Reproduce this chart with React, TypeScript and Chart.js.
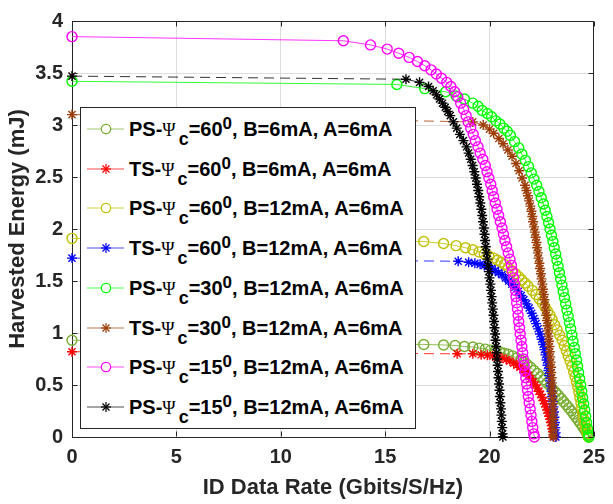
import React, { useEffect, useRef } from 'react';
import { Chart, registerables } from 'chart.js';

Chart.register(...registerables);

type P = [number, number];

const xTicks = [0, 5, 10, 15, 20, 25];
const yTicks = [0, 0.5, 1, 1.5, 2, 2.5, 3, 3.5, 4];
const xTitle = 'ID Data Rate (Gbits/S/Hz)';
const yTitle = 'Harvested Energy (mJ)';

// PS-Psi_c=60, B=6mA, A=6mA
const psPsi60B6: P[] = [[0,0.93],[16.85,0.89],[17.8,0.885],[18.35,0.88],[18.8,0.87],[19.2,0.865],[19.5,0.855],[19.8,0.845],[20.05,0.835],[20.3,0.825],[20.5,0.815],[20.7,0.805],[20.9,0.795],[21.1,0.78],[21.3,0.76],[21.5,0.74],[21.65,0.72],[21.8,0.7],[21.97,0.67],[22.13,0.64],[22.3,0.61],[22.45,0.58],[22.6,0.55],[22.75,0.52],[22.9,0.49],[23.03,0.46],[23.17,0.43],[23.3,0.4],[23.43,0.37],[23.55,0.34],[23.68,0.31],[23.8,0.28],[23.92,0.25],[24.03,0.22],[24.14,0.19],[24.25,0.16],[24.36,0.13],[24.46,0.1],[24.56,0.07],[24.65,0.04],[24.72,0.015],[24.76,0]];
// TS-Psi_c=60, B=6mA, A=6mA
const tsPsi60B6: P[] = [[0,0.82],[18.45,0.8],[19.2,0.8],[19.6,0.79],[19.9,0.785],[20.15,0.78],[20.38,0.77],[20.6,0.76],[20.8,0.745],[20.98,0.73],[21.16,0.71],[21.32,0.69],[21.46,0.67],[21.6,0.65],[21.74,0.62],[21.87,0.59],[21.98,0.56],[22.09,0.53],[22.19,0.5],[22.28,0.47],[22.37,0.44],[22.45,0.41],[22.52,0.38],[22.59,0.35],[22.65,0.32],[22.71,0.29],[22.76,0.26],[22.81,0.23],[22.86,0.2],[22.9,0.17],[22.94,0.14],[22.98,0.11],[23.01,0.08],[23.04,0.05],[23.07,0.02],[23.08,0]];
// PS-Psi_c=60, B=12mA, A=6mA
const psPsi60B12: P[] = [[0,1.91],[16.85,1.88],[17.8,1.86],[18.4,1.84],[18.85,1.82],[19.2,1.8],[19.5,1.78],[19.75,1.76],[19.97,1.74],[20.2,1.72],[20.38,1.7],[20.55,1.68],[20.72,1.66],[20.9,1.63],[21.07,1.6],[21.25,1.57],[21.4,1.54],[21.55,1.51],[21.7,1.48],[21.85,1.45],[22.05,1.41],[22.22,1.37],[22.38,1.33],[22.53,1.29],[22.66,1.25],[22.78,1.21],[22.9,1.17],[23.0,1.13],[23.12,1.08],[23.24,1.03],[23.36,0.98],[23.48,0.93],[23.58,0.88],[23.68,0.83],[23.77,0.78],[23.86,0.73],[23.95,0.68],[24.03,0.63],[24.1,0.58],[24.17,0.53],[24.23,0.48],[24.28,0.43],[24.33,0.38],[24.38,0.33],[24.42,0.28],[24.46,0.23],[24.5,0.18],[24.56,0.13],[24.62,0.08],[24.69,0.03],[24.74,0]];
// TS-Psi_c=60, B=12mA, A=6mA
const tsPsi60B12: P[] = [[0,1.72],[18.5,1.69],[19.0,1.68],[19.3,1.67],[19.55,1.66],[19.75,1.65],[19.92,1.64],[20.1,1.62],[20.27,1.6],[20.43,1.58],[20.6,1.56],[20.76,1.53],[20.92,1.5],[21.07,1.47],[21.22,1.44],[21.38,1.4],[21.52,1.36],[21.65,1.32],[21.78,1.28],[21.9,1.24],[22.02,1.19],[22.13,1.14],[22.23,1.09],[22.33,1.04],[22.42,0.99],[22.5,0.94],[22.57,0.89],[22.63,0.84],[22.68,0.79],[22.73,0.74],[22.78,0.69],[22.82,0.64],[22.86,0.59],[22.9,0.54],[22.94,0.49],[22.97,0.44],[23.0,0.39],[23.03,0.34],[23.06,0.29],[23.09,0.24],[23.11,0.19],[23.13,0.14],[23.15,0.09],[23.17,0.04],[23.18,0]];
// PS-Psi_c=30, B=12mA, A=6mA
const psPsi30B12: P[] = [[0,3.42],[15.56,3.39],[16.9,3.35],[17.9,3.32],[18.4,3.28],[18.8,3.25],[19.2,3.21],[19.45,3.18],[19.65,3.14],[19.9,3.11],[20.1,3.08],[20.3,3.04],[20.5,3.01],[20.68,2.97],[20.85,2.94],[21.0,2.9],[21.2,2.84],[21.4,2.78],[21.55,2.72],[21.72,2.66],[21.87,2.6],[22.0,2.54],[22.13,2.48],[22.26,2.42],[22.37,2.36],[22.48,2.3],[22.58,2.24],[22.67,2.18],[22.75,2.12],[22.83,2.06],[22.9,2.0],[22.97,1.94],[23.04,1.88],[23.1,1.82],[23.17,1.76],[23.23,1.7],[23.29,1.64],[23.35,1.58],[23.41,1.52],[23.47,1.46],[23.53,1.4],[23.59,1.34],[23.65,1.28],[23.71,1.22],[23.77,1.16],[23.83,1.1],[23.89,1.04],[23.95,0.98],[24.0,0.92],[24.06,0.86],[24.11,0.8],[24.17,0.74],[24.22,0.68],[24.27,0.62],[24.32,0.56],[24.37,0.5],[24.42,0.44],[24.46,0.38],[24.51,0.32],[24.56,0.26],[24.61,0.2],[24.65,0.14],[24.7,0.08],[24.74,0.02],[24.76,0]];
// TS-Psi_c=30, B=12mA, A=6mA
const tsPsi30B12: P[] = [[0,3.1],[19.2,3.03],[19.7,3.0],[20.0,2.96],[20.2,2.92],[20.45,2.87],[20.65,2.82],[20.88,2.76],[21.08,2.7],[21.27,2.63],[21.42,2.56],[21.56,2.49],[21.7,2.42],[21.77,2.37],[21.84,2.32],[21.9,2.27],[21.96,2.22],[22.01,2.17],[22.05,2.12],[22.09,2.07],[22.13,2.02],[22.17,1.97],[22.21,1.92],[22.25,1.87],[22.28,1.82],[22.32,1.77],[22.35,1.72],[22.39,1.67],[22.42,1.62],[22.46,1.57],[22.49,1.52],[22.53,1.47],[22.56,1.42],[22.6,1.37],[22.63,1.32],[22.66,1.27],[22.69,1.22],[22.72,1.17],[22.75,1.12],[22.78,1.07],[22.8,1.02],[22.83,0.97],[22.85,0.92],[22.87,0.87],[22.89,0.82],[22.91,0.77],[22.93,0.72],[22.95,0.67],[22.96,0.62],[22.98,0.57],[22.99,0.52],[23.0,0.47],[23.01,0.42],[23.02,0.37],[23.03,0.32],[23.04,0.27],[23.04,0.22],[23.05,0.17],[23.05,0.12],[23.06,0.07],[23.06,0.02],[23.06,0]];
// PS-Psi_c=15, B=12mA, A=6mA (circles)
const psPsi15B12: P[] = [[0,3.85],[13.0,3.81],[14.3,3.77],[15.1,3.73],[15.65,3.69],[16.15,3.65],[16.55,3.61],[16.9,3.57],[17.2,3.53],[17.45,3.49],[17.7,3.45],[17.95,3.41],[18.15,3.37],[18.33,3.32],[18.48,3.27],[18.62,3.21],[18.76,3.15],[18.88,3.09],[18.98,3.03],[19.1,2.97],[19.22,2.91],[19.32,2.85],[19.45,2.79],[19.55,2.73],[19.68,2.67],[19.8,2.61],[19.88,2.55],[19.97,2.49],[20.06,2.43],[20.13,2.37],[20.2,2.31],[20.28,2.25],[20.36,2.19],[20.44,2.13],[20.52,2.07],[20.6,2.01],[20.67,1.95],[20.74,1.89],[20.82,1.83],[20.9,1.77],[20.98,1.71],[21.05,1.65],[21.1,1.59],[21.16,1.53],[21.2,1.47],[21.24,1.41],[21.27,1.35],[21.3,1.29],[21.34,1.23],[21.37,1.17],[21.4,1.11],[21.44,1.05],[21.47,0.99],[21.51,0.93],[21.55,0.87],[21.59,0.81],[21.62,0.75],[21.66,0.69],[21.7,0.63],[21.74,0.57],[21.78,0.51],[21.82,0.45],[21.86,0.39],[21.9,0.33],[21.95,0.27],[21.99,0.21],[22.03,0.15],[22.07,0.09],[22.12,0.03],[22.15,0]];
// PS-Psi_c=15, B=12mA, A=6mA (asterisks)
const psPsi15B12Star: P[] = [[0,3.47],[16.0,3.44],[16.65,3.41],[17.08,3.37],[17.3,3.33],[17.46,3.29],[17.6,3.25],[17.75,3.21],[17.88,3.17],[18.0,3.13],[18.12,3.09],[18.27,3.03],[18.43,2.97],[18.58,2.91],[18.75,2.85],[18.9,2.79],[19.0,2.73],[19.1,2.67],[19.19,2.61],[19.27,2.55],[19.34,2.49],[19.4,2.43],[19.46,2.37],[19.51,2.31],[19.56,2.25],[19.61,2.19],[19.65,2.13],[19.69,2.07],[19.73,2.01],[19.76,1.95],[19.79,1.89],[19.82,1.83],[19.86,1.77],[19.9,1.71],[19.93,1.65],[19.97,1.59],[20.0,1.53],[20.04,1.47],[20.07,1.41],[20.1,1.35],[20.13,1.29],[20.16,1.23],[20.19,1.17],[20.22,1.11],[20.24,1.05],[20.27,0.99],[20.29,0.93],[20.32,0.87],[20.34,0.81],[20.36,0.75],[20.39,0.69],[20.41,0.63],[20.43,0.57],[20.46,0.51],[20.48,0.45],[20.5,0.39],[20.52,0.33],[20.55,0.27],[20.57,0.21],[20.59,0.15],[20.61,0.09],[20.63,0.03],[20.64,0]];

const legendScheme = ['PS', 'TS', 'PS', 'TS', 'PS', 'TS', 'PS', 'PS'];
const legendAngle = ['60', '60', '60', '60', '30', '30', '15', '15'];
const legendTail = [', B=6mA, A=6mA', ', B=6mA, A=6mA', ', B=12mA, A=6mA', ', B=12mA, A=6mA', ', B=12mA, A=6mA', ', B=12mA, A=6mA', ', B=12mA, A=6mA', ', B=12mA, A=6mA'];

const seriesData: P[][] = [psPsi60B6, tsPsi60B6, psPsi60B12, tsPsi60B12, psPsi30B12, tsPsi30B12, psPsi15B12, psPsi15B12Star];
const seriesColor = ['#77AC30', '#FF0000', '#BFBF00', '#0000FF', '#00FF00', '#9C3D06', '#FF00FF', '#000000'];
const seriesMarker = ['circle', 'star', 'circle', 'star', 'circle', 'star', 'circle', 'star'];
const seriesDashed = [false, true, false, true, false, true, false, true];

const FONT = "'Liberation Sans', Arial, Helvetica, sans-serif";
const AXIS_COLOR = '#262626';

const framePlugin = {
  id: 'frameTicks',
  afterDatasetsDraw(chart: any) {
    const { ctx, chartArea: a, scales } = chart;
    const L = Math.round(a.left) + 0.5;
    const R = Math.round(a.right) - 0.5;
    const T = Math.round(a.top) + 0.5;
    const B = Math.round(a.bottom) - 0.5;
    ctx.save();
    ctx.strokeStyle = AXIS_COLOR;
    ctx.lineWidth = 1;
    ctx.beginPath();
    ctx.moveTo(L, T); ctx.lineTo(R, T); ctx.lineTo(R, B);
    const tl = 5;
    xTicks.forEach((v) => {
      const px = Math.round(scales.x.getPixelForValue(v)) + 0.5;
      ctx.moveTo(px, B); ctx.lineTo(px, B - tl);
      ctx.moveTo(px, T); ctx.lineTo(px, T + tl);
    });
    yTicks.forEach((v) => {
      const py = Math.round(scales.y.getPixelForValue(v)) + 0.5;
      ctx.moveTo(L, py); ctx.lineTo(L + tl, py);
      ctx.moveTo(R, py); ctx.lineTo(R - tl, py);
    });
    ctx.stroke();
    ctx.restore();
  },
};

function withAlpha(hex: string, a: number) {
  const r = parseInt(hex.slice(1, 3), 16);
  const g = parseInt(hex.slice(3, 5), 16);
  const b = parseInt(hex.slice(5, 7), 16);
  return `rgba(${r},${g},${b},${a})`;
}

function Marker({ kind, color }: { kind: string; color: string }) {
  return (
    <svg width={46} height={20} style={{ position: 'absolute', left: 4, top: -10, overflow: 'visible' }}>
      <line x1={2} y1={10} x2={39} y2={10} stroke={withAlpha(color, 0.7)} strokeWidth={1} />
      {kind === 'circle' ? (
        <circle cx={21} cy={10} r={4.7} fill="#fff" stroke={color} strokeWidth={1.2} />
      ) : (
        <g stroke={color} strokeWidth={1.2}>
          <line x1={16} y1={10} x2={26} y2={10} />
          <line x1={21} y1={5} x2={21} y2={15} />
          <line x1={17.5} y1={6.5} x2={24.5} y2={13.5} />
          <line x1={17.5} y1={13.5} x2={24.5} y2={6.5} />
        </g>
      )}
    </svg>
  );
}

function Legend() {
  return (
    <div
      style={{
        position: 'absolute', left: 80, top: 107, width: 336, height: 322,
        boxSizing: 'border-box', border: `1px solid ${AXIS_COLOR}`, background: '#fff',
      }}
    >
      {legendScheme.map((s, i) => (
        <div key={i} style={{ position: 'absolute', left: 0, top: 21 + i * 39.7, width: 0, height: 0 }}>
          <Marker kind={seriesMarker[i]} color={seriesColor[i]} />
          <div
            style={{
              position: 'absolute', left: 48, top: -10, whiteSpace: 'nowrap',
              fontFamily: FONT, fontWeight: 'bold', fontSize: 20, lineHeight: '20px', color: '#000',
            }}
          >
            {s}-
            <span style={{ fontFamily: "'Liberation Serif', 'Times New Roman', serif", fontWeight: 'normal', fontSize: 18 }}>Ψ</span>
            <span style={{ position: 'relative', top: 9, marginLeft: 3, fontSize: 18 }}>c</span>
            ={legendAngle[i]}
            <span style={{ position: 'relative', top: -7, fontSize: 17 }}>0</span>
            {legendTail[i]}
          </div>
        </div>
      ))}
    </div>
  );
}

export default function App() {
  const ref = useRef<HTMLCanvasElement>(null);

  useEffect(() => {
    const canvas = ref.current;
    if (!canvas) return;
    const datasets = seriesData.map((d, i) => ({
      label: `${legendScheme[i]}-Ψc=${legendAngle[i]}0${legendTail[i]}`,
      data: d.map(([x, y]) => ({ x, y })),
      showLine: true,
      borderColor: withAlpha(seriesColor[i], 0.8),
      borderWidth: 1,
      borderDash: seriesDashed[i] ? [10, 6] : [],
      pointStyle: seriesMarker[i],
      pointRadius: 5,
      pointBorderColor: seriesColor[i],
      pointBackgroundColor: 'rgba(0,0,0,0)',
      pointBorderWidth: 1.4,
      tension: 0,
      clip: false as any,
      order: seriesData.length - 1 - i,
    }));

    const tickFont = { family: FONT, size: 20, weight: 'bold' as const };
    const titleFont = { family: FONT, size: 22, weight: 'bold' as const };

    const chart = new Chart(canvas, {
      type: 'scatter',
      data: { datasets: datasets as any },
      options: {
        animation: false,
        responsive: false,
        maintainAspectRatio: false,
        devicePixelRatio: 1,
        layout: { padding: { top: 12, right: 14, left: 0, bottom: 0 } },
        plugins: { legend: { display: false }, tooltip: { enabled: false } },
        scales: {
          x: {
            type: 'linear',
            min: 0,
            max: 25,
            afterBuildTicks: (s: any) => { s.ticks = xTicks.map((v) => ({ value: v })); },
            afterFit: (s: any) => { s.height = 67; },
            grid: { color: '#dedede', drawTicks: false, lineWidth: 1 },
            border: { color: AXIS_COLOR, width: 1 },
            ticks: { font: tickFont, color: AXIS_COLOR, padding: 8, autoSkip: false, maxRotation: 0, callback: (v: any) => String(v) },
            title: { display: true, text: xTitle, font: titleFont, color: AXIS_COLOR, padding: { top: 0, bottom: 3 } },
          },
          y: {
            type: 'linear',
            min: 0,
            max: 4,
            afterBuildTicks: (s: any) => { s.ticks = yTicks.map((v) => ({ value: v })); },
            afterFit: (s: any) => { s.width = 72; },
            grid: { color: '#dedede', drawTicks: false, lineWidth: 1 },
            border: { color: AXIS_COLOR, width: 1 },
            ticks: { font: tickFont, color: AXIS_COLOR, padding: 9, autoSkip: false, callback: (v: any) => String(v) },
            title: { display: true, text: yTitle, font: titleFont, color: AXIS_COLOR, padding: { top: 5, bottom: 0 } },
          },
        },
      },
      plugins: [framePlugin],
    });
    return () => chart.destroy();
  }, []);

  return (
    <div style={{ position: 'fixed', left: 0, top: 0, width: 613, height: 504, background: '#fff' }}>
      <canvas ref={ref} width={613} height={504} style={{ position: 'absolute', left: 0, top: 0, width: 613, height: 504 }} />
      <Legend />
    </div>
  );
}
